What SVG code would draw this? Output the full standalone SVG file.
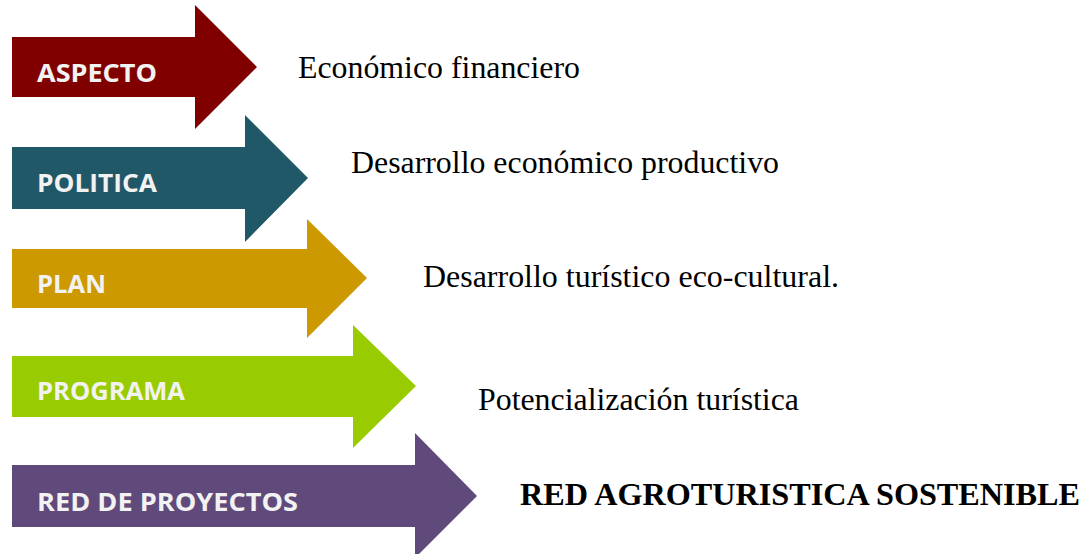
<svg xmlns="http://www.w3.org/2000/svg" width="1086" height="554" viewBox="0 0 1086 554">
<style>
.lbl{font-family:"Open Sans","Liberation Sans",sans-serif;font-weight:700;font-size:25px;fill:#f2f2f2}
.desc{font-family:"Liberation Serif","Times New Roman",serif;font-size:31.5px;fill:#000}
.bold{font-weight:700}
</style>
<rect width="1086" height="554" fill="#ffffff"/>
<g id="aspecto">
<polygon points="12,37 195,37 195,5 257,67 195,129 195,97 12,97" fill="#800000"/>
<text class="lbl" x="37" y="82" textLength="120" lengthAdjust="spacingAndGlyphs">ASPECTO</text>
</g>
<g id="politica">
<polygon points="12,147 245,147 245,115 308,178 245,242 245,209 12,209" fill="#215868"/>
<text class="lbl" x="37" y="192" textLength="120" lengthAdjust="spacingAndGlyphs">POLITICA</text>
</g>
<g id="plan">
<polygon points="12,249 307,249 307,219 367,278 307,338 307,308 12,308" fill="#CC9900"/>
<text class="lbl" x="37" y="293" textLength="69" lengthAdjust="spacingAndGlyphs">PLAN</text>
</g>
<g id="programa">
<polygon points="12,356 353,356 353,325 416,386 353,448 353,417 12,417" fill="#99CC00"/>
<text class="lbl" x="37" y="400" textLength="148" lengthAdjust="spacingAndGlyphs">PROGRAMA</text>
</g>
<g id="red-proyectos">
<polygon points="12,465 415,465 415,433 477,496 415,558 415,527 12,527" fill="#604A7B"/>
<text class="lbl" x="37" y="511" textLength="261" lengthAdjust="spacingAndGlyphs">RED DE PROYECTOS</text>
</g>
<g id="texto-aspecto">
<text class="desc" x="298" y="78" textLength="282" lengthAdjust="spacingAndGlyphs">Económico financiero</text>
</g>
<g id="texto-politica">
<text class="desc" x="351" y="173" textLength="428" lengthAdjust="spacingAndGlyphs">Desarrollo económico productivo</text>
</g>
<g id="texto-plan">
<text class="desc" x="423" y="287" textLength="416" lengthAdjust="spacingAndGlyphs">Desarrollo turístico eco-cultural.</text>
</g>
<g id="texto-programa">
<text class="desc" x="478" y="410" textLength="321" lengthAdjust="spacingAndGlyphs">Potencialización turística</text>
</g>
<g id="texto-red">
<text class="desc bold" x="520" y="505" textLength="560" lengthAdjust="spacingAndGlyphs">RED AGROTURISTICA SOSTENIBLE</text>
</g>
</svg>
